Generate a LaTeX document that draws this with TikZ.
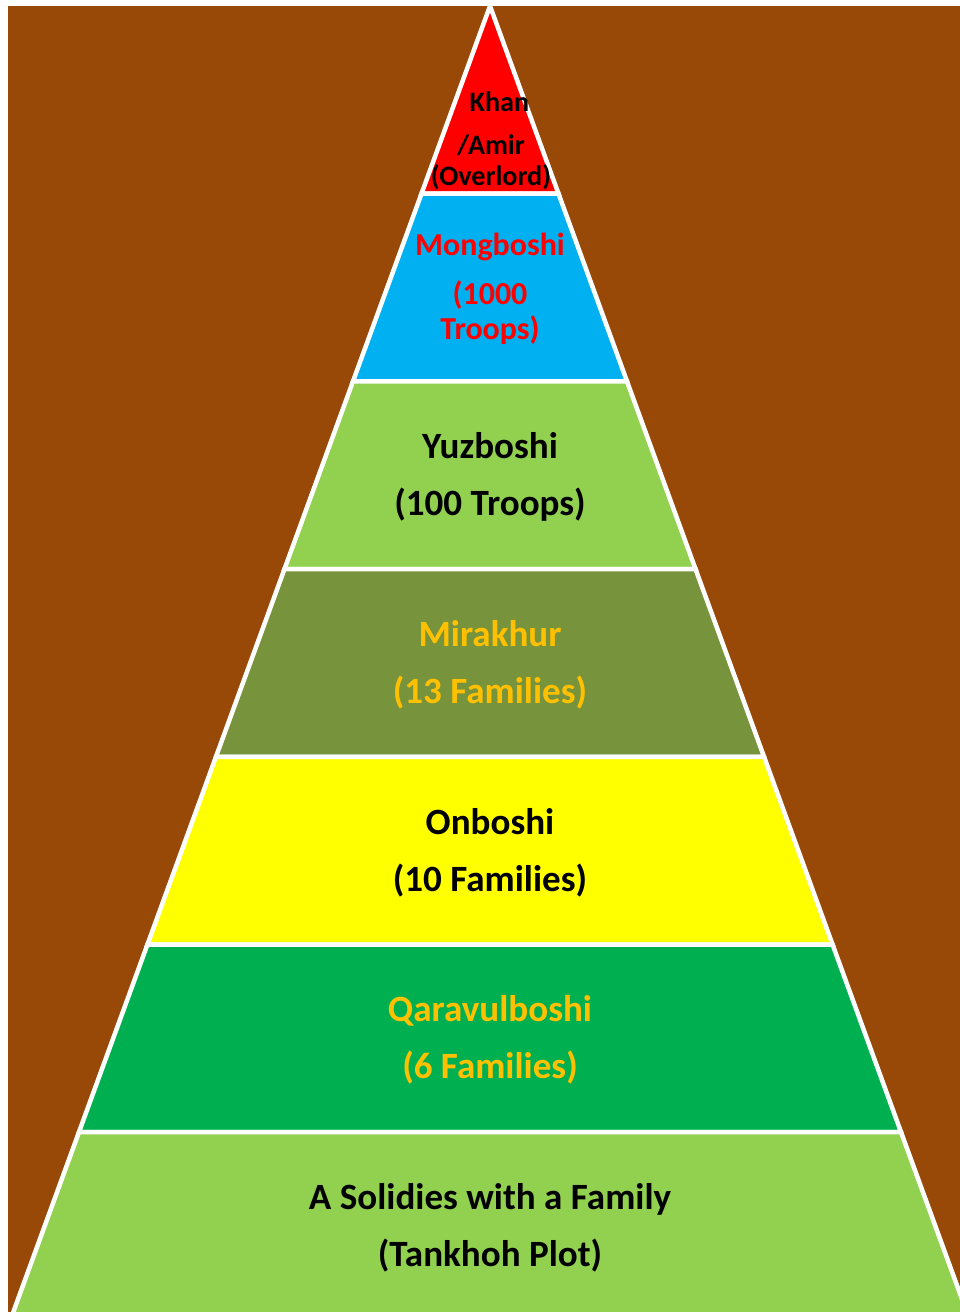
\documentclass[tikz,border=0pt]{standalone}
\usepackage{fontspec}
\setmainfont{Carlito}
\usepackage{xcolor}
\usepackage{tikz}
\usetikzlibrary{positioning,calc}

\definecolor{soilbrown}{HTML}{984807}
\definecolor{khanred}{HTML}{FF0000}
\definecolor{mongblue}{HTML}{00B0F0}
\definecolor{lightgreen}{HTML}{92D050}
\definecolor{olivegreen}{HTML}{77933C}
\definecolor{brightyellow}{HTML}{FFFF00}
\definecolor{darkgreen}{HTML}{00B050}
\definecolor{goldtext}{HTML}{FFC000}

\begin{document}
\begin{tikzpicture}[x=0.02cm,y=-0.02cm,
    band/.style={draw=white,line width=0.09cm,line join=miter},
    lbl/.style={font=\bfseries\fontsize{21.1}{32.2}\selectfont,align=center,inner sep=0pt}]
        \useasboundingbox (0,0) rectangle (960,1312);

        % Background
        \fill[white] (0,0) rectangle (960,1312);
        \fill[soilbrown] (8,6) rectangle (960,1312);

        % Pyramid bands (apex at x=490, y=6)
        \foreach \ya/\yb/\col in {6/193.7/khanred, 193.7/381.4/mongblue,
                381.4/569.1/lightgreen, 569.1/756.8/olivegreen,
                756.8/944.5/brightyellow, 944.5/1132.2/darkgreen,
                1132.2/1319.9/lightgreen} {
            \filldraw[band,fill=\col]
                ({490-0.365*(\ya-6)},\ya) -- ({490+0.365*(\ya-6)},\ya)
                -- ({490+0.365*(\yb-6)},\yb) -- ({490-0.365*(\yb-6)},\yb) -- cycle;
        }

        % Labels
        \node[lbl,font=\bfseries\fontsize{16}{17.6}\selectfont] (khan) at (491,141)
            {\hspace*{0.6em}Khan\\[6.8pt]/Amir\\(Overlord)};
        \node[lbl,khanred,font=\bfseries\fontsize{18.2}{19.9}\selectfont] (mongboshi) at (490,289)
            {Mongboshi\\[8pt](1000\\Troops)};
        \node[lbl] (yuzboshi) at (490,477) {Yuzboshi\\(100 Troops)};
        \node[lbl,goldtext] (mirakhur) at (490,665) {Mirakhur\\(13 Families)};
        \node[lbl] (onboshi) at (490,853) {Onboshi\\(10 Families)};
        \node[lbl,goldtext] (qaravulboshi) at (490,1040) {Qaravulboshi\\(6 Families)};
        \node[lbl] (soldier) at (490,1228) {A Solidies with a Family\\(Tankhoh Plot)};

    \end{tikzpicture}
\end{document}
